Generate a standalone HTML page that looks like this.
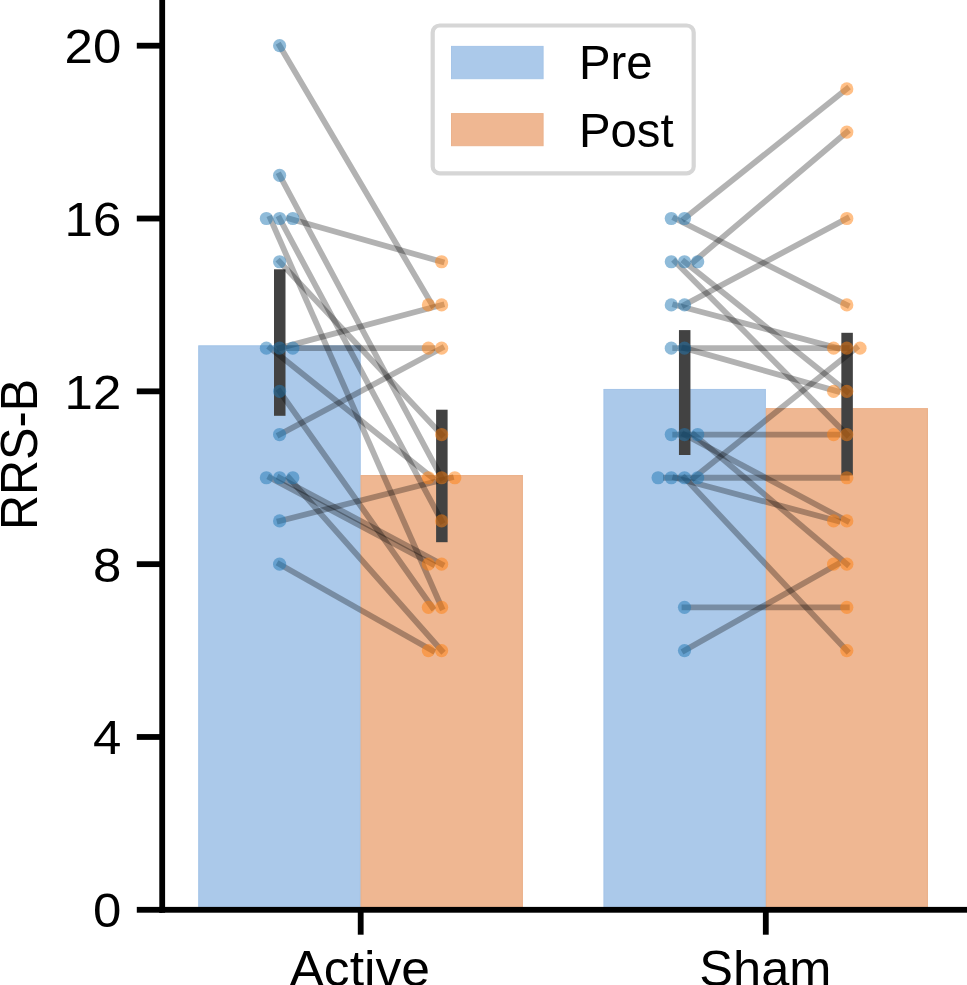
<!DOCTYPE html>
<html><head><meta charset="utf-8"><style>
html,body{margin:0;padding:0;background:#fff;}
body{width:967px;height:985px;overflow:hidden;}
svg{display:block;will-change:transform;}
text{font-family:"Liberation Sans",sans-serif;}
</style></head><body>
<svg width="967" height="985" viewBox="0 0 967 985">
<rect width="967" height="985" fill="#fff"/>
<rect x="359.6" y="475.05" width="2" height="434.75" fill="#abc9ea"/>
<rect x="764.8" y="408.14" width="2" height="501.66" fill="#abc9ea"/>
<rect x="198.35" y="345.43" width="162.25" height="564.37" fill="#abc9ea"/>
<rect x="360.6" y="475.05" width="162.25" height="434.75" fill="#efb792"/>
<rect x="603.6" y="388.94" width="162.2" height="520.86" fill="#abc9ea"/>
<rect x="765.8" y="408.14" width="162.15" height="501.66" fill="#efb792"/>
<path d="M198.9 909.8 V345.98 H360.05 V909.8" fill="none" stroke="#a6c5e8" stroke-width="1.1"/>
<path d="M361.15 909.8 V475.6 H522.3 V909.8" fill="none" stroke="#ebb28c" stroke-width="1.1"/>
<path d="M604.15 909.8 V389.49 H765.25 V909.8" fill="none" stroke="#a6c5e8" stroke-width="1.1"/>
<path d="M766.35 909.8 V408.69 H927.4 V909.8" fill="none" stroke="#ebb28c" stroke-width="1.1"/>
<rect x="274" y="269.3" width="11.5" height="146.5" fill="#424242"/>
<rect x="436.1" y="409.7" width="11.5" height="132.5" fill="#424242"/>
<rect x="678.95" y="330.1" width="11.5" height="124.9" fill="#424242"/>
<rect x="841.35" y="332.8" width="11.5" height="142.6" fill="#424242"/>
<g stroke="#000" stroke-opacity="0.3" stroke-width="5.8" stroke-linecap="square" fill="none">
<line x1="279.6" y1="45.7" x2="432.3" y2="304.93"/>
<line x1="279.6" y1="175.31" x2="441.6" y2="477.75"/>
<line x1="270.3" y1="218.52" x2="441.6" y2="607.37"/>
<line x1="279.6" y1="218.52" x2="441.6" y2="520.95"/>
<line x1="288.9" y1="218.52" x2="441.6" y2="261.73"/>
<line x1="279.6" y1="261.73" x2="441.6" y2="434.54"/>
<line x1="270.3" y1="348.13" x2="432.3" y2="477.75"/>
<line x1="279.6" y1="348.13" x2="441.6" y2="304.93"/>
<line x1="288.9" y1="348.13" x2="432.3" y2="348.13"/>
<line x1="279.6" y1="391.34" x2="432.3" y2="607.37"/>
<line x1="279.6" y1="434.54" x2="441.6" y2="348.13"/>
<line x1="270.3" y1="477.75" x2="432.3" y2="564.16"/>
<line x1="279.6" y1="477.75" x2="441.6" y2="564.16"/>
<line x1="288.9" y1="477.75" x2="441.6" y2="650.57"/>
<line x1="279.6" y1="520.95" x2="450.9" y2="477.75"/>
<line x1="279.6" y1="564.16" x2="432.3" y2="650.57"/>
<line x1="675.2" y1="218.52" x2="846.8" y2="304.93"/>
<line x1="684.5" y1="218.52" x2="846.8" y2="88.9"/>
<line x1="675.2" y1="261.73" x2="846.8" y2="434.54"/>
<line x1="684.5" y1="261.73" x2="846.8" y2="391.34"/>
<line x1="693.8" y1="261.73" x2="846.8" y2="132.11"/>
<line x1="675.2" y1="304.93" x2="837.5" y2="348.13"/>
<line x1="684.5" y1="304.93" x2="846.8" y2="218.52"/>
<line x1="675.2" y1="348.13" x2="846.8" y2="348.13"/>
<line x1="684.5" y1="348.13" x2="837.5" y2="391.34"/>
<line x1="675.2" y1="434.54" x2="837.5" y2="434.54"/>
<line x1="684.5" y1="434.54" x2="846.8" y2="520.95"/>
<line x1="693.8" y1="434.54" x2="846.8" y2="564.16"/>
<line x1="665.9" y1="477.75" x2="846.8" y2="477.75"/>
<line x1="675.2" y1="477.75" x2="837.5" y2="520.95"/>
<line x1="684.5" y1="477.75" x2="846.8" y2="650.57"/>
<line x1="693.8" y1="477.75" x2="856.1" y2="348.13"/>
<line x1="684.5" y1="607.37" x2="846.8" y2="607.37"/>
<line x1="684.5" y1="650.57" x2="837.5" y2="564.16"/>
</g>
<g fill="#1f77b4" fill-opacity="0.5">
<circle cx="279.6" cy="45.7" r="6.6"/>
<circle cx="279.6" cy="175.31" r="6.6"/>
<circle cx="266.4" cy="218.52" r="6.6"/>
<circle cx="279.6" cy="218.52" r="6.6"/>
<circle cx="292.8" cy="218.52" r="6.6"/>
<circle cx="279.6" cy="261.73" r="6.6"/>
<circle cx="266.4" cy="348.13" r="6.6"/>
<circle cx="279.6" cy="348.13" r="6.6"/>
<circle cx="292.8" cy="348.13" r="6.6"/>
<circle cx="279.6" cy="391.34" r="6.6"/>
<circle cx="279.6" cy="434.54" r="6.6"/>
<circle cx="266.4" cy="477.75" r="6.6"/>
<circle cx="279.6" cy="477.75" r="6.6"/>
<circle cx="292.8" cy="477.75" r="6.6"/>
<circle cx="279.6" cy="520.95" r="6.6"/>
<circle cx="279.6" cy="564.16" r="6.6"/>
<circle cx="671.3" cy="218.52" r="6.6"/>
<circle cx="684.5" cy="218.52" r="6.6"/>
<circle cx="671.3" cy="261.73" r="6.6"/>
<circle cx="684.5" cy="261.73" r="6.6"/>
<circle cx="697.7" cy="261.73" r="6.6"/>
<circle cx="671.3" cy="304.93" r="6.6"/>
<circle cx="684.5" cy="304.93" r="6.6"/>
<circle cx="671.3" cy="348.13" r="6.6"/>
<circle cx="684.5" cy="348.13" r="6.6"/>
<circle cx="671.3" cy="434.54" r="6.6"/>
<circle cx="684.5" cy="434.54" r="6.6"/>
<circle cx="697.7" cy="434.54" r="6.6"/>
<circle cx="658.1" cy="477.75" r="6.6"/>
<circle cx="671.3" cy="477.75" r="6.6"/>
<circle cx="684.5" cy="477.75" r="6.6"/>
<circle cx="697.7" cy="477.75" r="6.6"/>
<circle cx="684.5" cy="607.37" r="6.6"/>
<circle cx="684.5" cy="650.57" r="6.6"/>
</g>
<g fill="#ff7f0e" fill-opacity="0.5">
<circle cx="441.6" cy="261.73" r="6.6"/>
<circle cx="428.4" cy="304.93" r="6.6"/>
<circle cx="441.6" cy="304.93" r="6.6"/>
<circle cx="428.4" cy="348.13" r="6.6"/>
<circle cx="441.6" cy="348.13" r="6.6"/>
<circle cx="441.6" cy="434.54" r="6.6"/>
<circle cx="428.4" cy="477.75" r="6.6"/>
<circle cx="441.6" cy="477.75" r="6.6"/>
<circle cx="454.8" cy="477.75" r="6.6"/>
<circle cx="441.6" cy="520.95" r="6.6"/>
<circle cx="428.4" cy="564.16" r="6.6"/>
<circle cx="441.6" cy="564.16" r="6.6"/>
<circle cx="428.4" cy="607.37" r="6.6"/>
<circle cx="441.6" cy="607.37" r="6.6"/>
<circle cx="428.4" cy="650.57" r="6.6"/>
<circle cx="441.6" cy="650.57" r="6.6"/>
<circle cx="846.8" cy="88.9" r="6.6"/>
<circle cx="846.8" cy="132.11" r="6.6"/>
<circle cx="846.8" cy="218.52" r="6.6"/>
<circle cx="846.8" cy="304.93" r="6.6"/>
<circle cx="833.6" cy="348.13" r="6.6"/>
<circle cx="846.8" cy="348.13" r="6.6"/>
<circle cx="860" cy="348.13" r="6.6"/>
<circle cx="833.6" cy="391.34" r="6.6"/>
<circle cx="846.8" cy="391.34" r="6.6"/>
<circle cx="833.6" cy="434.54" r="6.6"/>
<circle cx="846.8" cy="434.54" r="6.6"/>
<circle cx="846.8" cy="477.75" r="6.6"/>
<circle cx="833.6" cy="520.95" r="6.6"/>
<circle cx="846.8" cy="520.95" r="6.6"/>
<circle cx="833.6" cy="564.16" r="6.6"/>
<circle cx="846.8" cy="564.16" r="6.6"/>
<circle cx="846.8" cy="607.37" r="6.6"/>
<circle cx="846.8" cy="650.57" r="6.6"/>
</g>
<rect x="159.3" y="-5" width="5.8" height="917.7" fill="#000"/>
<rect x="159.3" y="906.9" width="810.6" height="5.8" fill="#000"/>
<rect x="136.8" y="906.9" width="25.4" height="5.8" fill="#000"/>
<rect x="136.8" y="734.08" width="25.4" height="5.8" fill="#000"/>
<rect x="136.8" y="561.26" width="25.4" height="5.8" fill="#000"/>
<rect x="136.8" y="388.44" width="25.4" height="5.8" fill="#000"/>
<rect x="136.8" y="215.62" width="25.4" height="5.8" fill="#000"/>
<rect x="136.8" y="42.8" width="25.4" height="5.8" fill="#000"/>
<rect x="357.8" y="909.8" width="5.8" height="24.9" fill="#000"/>
<rect x="762.9" y="909.8" width="5.8" height="24.9" fill="#000"/>
<g font-family="Liberation Sans, sans-serif" font-size="49.0" fill="#000">
<text x="121.3" y="927.3" text-anchor="end" transform="translate(121.3 0) scale(1.04 1) translate(-121.3 0)">0</text>
<text x="121.3" y="754.48" text-anchor="end" transform="translate(121.3 0) scale(1.04 1) translate(-121.3 0)">4</text>
<text x="121.3" y="581.66" text-anchor="end" transform="translate(121.3 0) scale(1.04 1) translate(-121.3 0)">8</text>
<text x="121.3" y="408.84" text-anchor="end" transform="translate(121.3 0) scale(1.04 1) translate(-121.3 0)">12</text>
<text x="121.3" y="236.02" text-anchor="end" transform="translate(121.3 0) scale(1.04 1) translate(-121.3 0)">16</text>
<text x="121.3" y="63.2" text-anchor="end" transform="translate(121.3 0) scale(1.04 1) translate(-121.3 0)">20</text>
<text x="359.7" y="985.6" font-size="49.6" text-anchor="middle" transform="translate(359.7 0) scale(1.04 1) translate(-359.7 0)">Active</text>
<text x="765.4" y="985.6" font-size="49.6" text-anchor="middle" transform="translate(765.4 0) scale(1.02 1) translate(-765.4 0)">Sham</text>
</g>
<text transform="translate(36.7,454.5) rotate(-90) scale(0.935 1)" text-anchor="middle" font-family="Liberation Sans, sans-serif" font-size="52">RRS-B</text>
<rect x="432.7" y="25.5" width="261" height="147.9" rx="7" ry="7" fill="#fff" fill-opacity="0.8" stroke="#d6d6d6" stroke-width="4.2"/>
<rect x="451.5" y="46.4" width="91.6" height="32.3" fill="#abc9ea" stroke="#a6c5e8" stroke-width="1"/>
<rect x="451.5" y="113.6" width="91.6" height="32.1" fill="#efb792" stroke="#ebb28c" stroke-width="1"/>
<g font-family="Liberation Sans, sans-serif" font-size="47.3" fill="#000">
<text x="579" y="79.3">Pre</text>
<text x="579" y="146.5">Post</text>
</g>
</svg>
</body></html>
